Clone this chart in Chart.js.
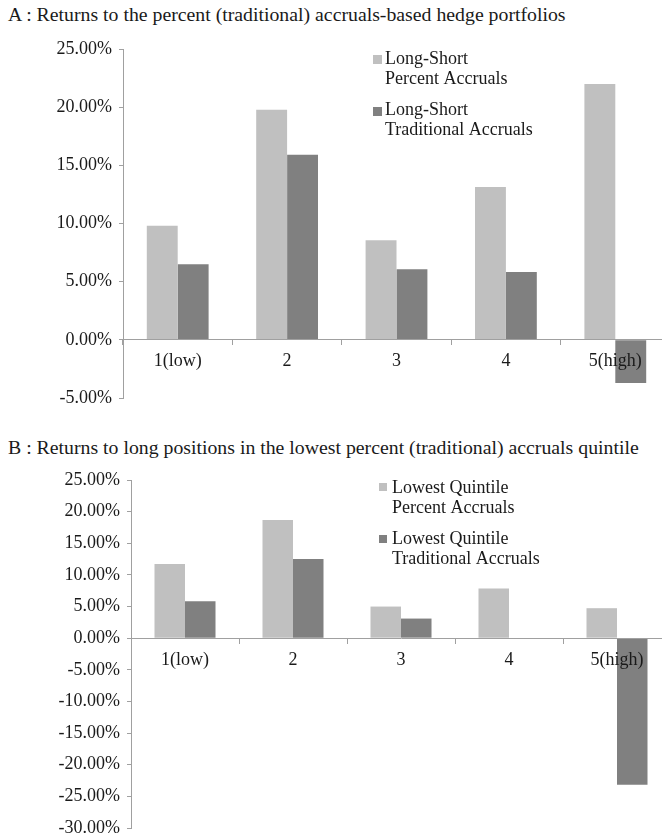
<!DOCTYPE html>
<html><head><meta charset="utf-8">
<script src="https://cdn.jsdelivr.net/npm/chart.js@4.4.1/dist/chart.umd.min.js"></script>
<style>
html,body{margin:0;padding:0;width:662px;height:839px;overflow:hidden;background:#fff;}
.title{position:absolute;left:8px;font-family:"Liberation Serif","Times New Roman",serif;font-size:19.8px;line-height:20px;color:#1a1a1a;white-space:nowrap;}
canvas{position:absolute;left:0;}
</style></head><body>
<div class="title" style="top:4px">A : Returns to the percent (traditional) accruals-based hedge portfolios</div>
<canvas id="cA" width="670" height="389" style="top:29px;width:670px;height:389px"></canvas>
<div class="title" style="top:437px">B : Returns to long positions in the lowest percent (traditional) accruals quintile</div>
<canvas id="cB" width="671" height="388" style="top:460px;width:671px;height:388px"></canvas>
<script>
const categories = ['1(low)', '2', '3', '4', '5(high)'];
const percentA = [9.80, 19.77, 8.57, 13.14, 22.00];
const traditionalA = [6.49, 15.91, 6.06, 5.83, -3.71];
const percentB = [11.74, 18.68, 5.00, 7.84, 4.74];
const traditionalB = [5.84, 12.53, 3.10, 0, -23.16];
const legendA = [['Long-Short', 'Percent Accruals'], ['Long-Short', 'Traditional Accruals']];
const legendB = [['Lowest Quintile', 'Percent Accruals'], ['Lowest Quintile', 'Traditional Accruals']];
const yRangeA = [-5, 25];
const yRangeB = [-30, 25];
const yStep = 5;

const LIGHT = '#c0c0c0', DARK = '#808080', AXIS = '#a0a0a0', TEXT = '#1a1a1a';
const FONT = {family: 'Liberation Serif', size: 18};

const boxLegend = {
  id: 'boxLegend',
  afterDraw(chart, args, opts) {
    const ctx = chart.ctx;
    ctx.save();
    ctx.font = '18px "Liberation Serif"';
    ctx.textBaseline = 'middle';
    chart.data.datasets.forEach((ds, i) => {
      const row = opts.rows[i];
      ctx.fillStyle = ds.backgroundColor;
      ctx.fillRect(opts.boxX, row.boxY, opts.box, opts.box);
      ctx.fillStyle = TEXT;
      ds.legendLines.forEach((t, j) => ctx.fillText(t, opts.textX, row.textY + j * opts.lineH));
    });
    ctx.restore();
  }
};

function makeChart(id, pct, trad, labels, yRange, axisW, legendOpts) {
  return new Chart(document.getElementById(id), {
    type: 'bar',
    data: {
      labels: categories,
      datasets: [
        {label: labels[0].join(' '), legendLines: labels[0], data: pct, backgroundColor: LIGHT, borderWidth: 0, categoryPercentage: 0.565, barPercentage: 1},
        {label: labels[1].join(' '), legendLines: labels[1], data: trad, backgroundColor: DARK, borderWidth: 0, categoryPercentage: 0.565, barPercentage: 1}
      ]
    },
    options: {
      responsive: false,
      animation: false,
      layout: {padding: {top: 20, bottom: 20, left: 0, right: 0}},
      plugins: {legend: {display: false}, tooltip: {enabled: false}, title: {display: false}, boxLegend: legendOpts},
      scales: {
        x: {
          type: 'category',
          position: {y: 0},
          grid: {display: true, drawOnChartArea: false, drawTicks: true, tickLength: 5, color: AXIS, offset: true, z: 1},
          border: {display: true, color: AXIS, width: 1, z: 1},
          ticks: {font: FONT, color: TEXT, padding: 6, maxRotation: 0, autoSkip: false, z: 1}
        },
        y: {
          min: yRange[0], max: yRange[1],
          grid: {display: true, drawOnChartArea: false, drawTicks: true, tickLength: 4, color: AXIS},
          border: {display: true, color: AXIS, width: 1},
          ticks: {stepSize: yStep, font: FONT, color: TEXT, padding: 7, callback: v => v.toFixed(2) + '%'},
          afterFit(s) { s.width = axisW; }
        }
      }
    },
    plugins: [boxLegend]
  });
}

makeChart('cA', percentA, traditionalA, legendA, yRangeA, 123,
  {boxX: 373, box: 9, textX: 385, lineH: 20, rows: [{boxY: 26, textY: 30.5}, {boxY: 78, textY: 81}]});
makeChart('cB', percentB, traditionalB, legendB, yRangeB, 131,
  {boxX: 379, box: 8, textX: 392, lineH: 20, rows: [{boxY: 23, textY: 28}, {boxY: 75, textY: 79}]});
</script>
</body></html>
